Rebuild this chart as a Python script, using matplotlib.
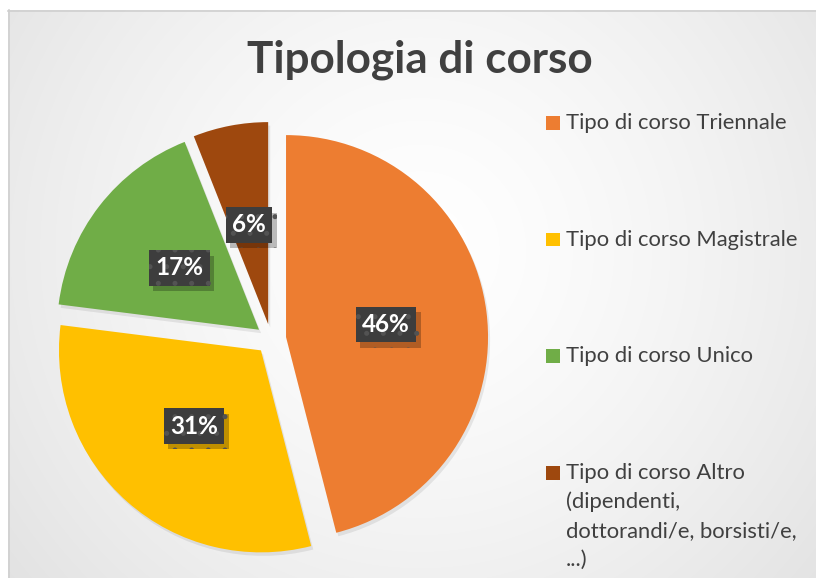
import numpy as np
import matplotlib
matplotlib.use('Agg')
import matplotlib.pyplot as plt
from matplotlib.patches import Rectangle
from matplotlib import patheffects
from matplotlib.colors import to_rgba

# ---- data ----
title = "Tipologia di corso"
categories = ["Tipo di corso Triennale",
              "Tipo di corso Magistrale",
              "Tipo di corso Unico",
              "Tipo di corso Altro\n(dipendenti,\ndottorandi/e, borsisti/e,\n...)"]
values = [46, 31, 17, 6]
colors = ["#ED7D31", "#FFC000", "#70AD47", "#9E480E"]

plt.rcParams['font.family'] = ['Lato', 'DejaVu Sans']
plt.rcParams['hatch.linewidth'] = 1.2

W, H = 816, 578
fig = plt.figure(figsize=(W / 100, H / 100), dpi=100)
fig.patch.set_facecolor('white')

# background (radial gradient chart area)
bg = fig.add_axes([0, 0, 1, 1], zorder=0)
bg.set_xlim(0, W)
bg.set_ylim(H, 0)
bg.axis('off')
yy, xx = np.mgrid[0:H, 0:W]
r = np.clip(np.hypot(xx - 420, yy - 250) / 620, 0, 1)
v = 1.0 - 0.14 * r ** 1.4
img = np.dstack([v, v, v])
img[:10, :] = 1
img[:, :8] = 1
bg.imshow(img, extent=[0, W, H, 0], aspect='auto', interpolation='bilinear')
bg.plot([8.5, 8.5], [10, H], color='#cfcfcf', lw=1.2)
bg.plot([8, W], [10.5, 10.5], color='#cfcfcf', lw=1.2)

renderer = fig.canvas.get_renderer()


def fit(t, target_w):
    bb = t.get_window_extent(renderer=renderer)
    t.set_fontsize(t.get_fontsize() * target_w / bb.width)
    return t.get_fontsize()


# title
tt = bg.text(247, 73, title, fontsize=28, fontweight='bold', color='#404040',
             ha='left', va='baseline')
fit(tt, 345)

# pie
cx, cy, R, lim = 271, 339, 202, 1.15
half = lim * R
ax = fig.add_axes([(cx - half) / W, (H - cy - half) / H, 2 * half / W, 2 * half / H], zorder=2)
ax.patch.set_alpha(0)
wedges, texts, autotexts = ax.pie(values, colors=colors, startangle=90, counterclock=False,
                                  explode=[0.075] * len(values), autopct=lambda p: f'{p:.0f}%',
                                  pctdistance=0.5, radius=1, wedgeprops=dict(linewidth=0))
ax.set_xlim(-lim, lim)
ax.set_ylim(-lim, lim)
ax.set_aspect('equal')
for w in wedges:
    w.set_path_effects([patheffects.SimplePatchShadow(offset=(1.5, -2.5), shadow_rgbFace='black', alpha=0.08),
                        patheffects.Normal()])

lab_fs = None
for at in autotexts:
    at.set_color('white')
    at.set_fontweight('bold')
    at.set_fontsize(15)
    if lab_fs is None:
        lab_fs = fit(at, 48)
    at.set_fontsize(lab_fs)
    at.set_bbox(dict(boxstyle='square,pad=0.26', fc='#3d3d3d', lw=0, hatch='.'))
    bp = at.get_bbox_patch()
    bp._hatch_color = to_rgba('#535353')
    bp.set_path_effects([patheffects.SimplePatchShadow(offset=(3, -4), shadow_rgbFace='black', alpha=0.25),
                         patheffects.Normal()])

# legend (manual)
base0, step, line_h = 129, 116.7, 29
leg_fs = None
for i, (lab, col) in enumerate(zip(categories, colors)):
    b = base0 + i * step
    bg.add_patch(Rectangle((546, b - 13), 13.5, 13.5, facecolor=col, edgecolor='none'))
    for j, line in enumerate(lab.split('\n')):
        t = bg.text(566, b + j * line_h, line, fontsize=15, color='#404040',
                    ha='left', va='baseline')
        if leg_fs is None:
            leg_fs = fit(t, 220)
        t.set_fontsize(leg_fs)

fig.savefig('out.png', dpi=100)
